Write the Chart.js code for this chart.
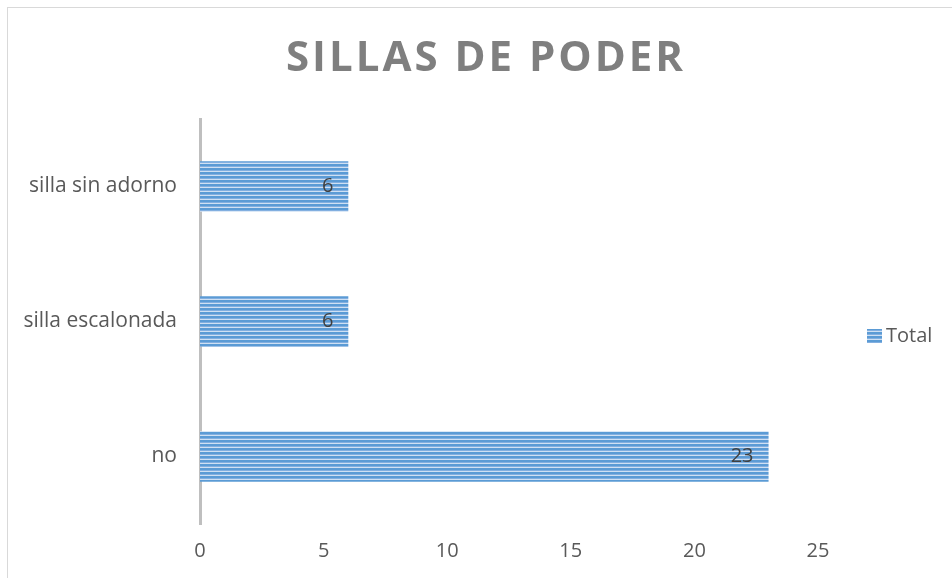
<!DOCTYPE html>
<html>
<head>
<meta charset="utf-8">
<script src="https://cdn.jsdelivr.net/npm/chart.js@4"></script>
<style>
    html, body { margin: 0; padding: 0; background: #fff; overflow: hidden; }
    #wrap { position: relative; width: 952px; height: 578px; }
    #frame { position: absolute; left: 7px; top: 7px; width: 980px; height: 620px; border: 1px solid #d9d9d9; box-sizing: border-box; }
    canvas { position: absolute; left: 0; top: 0; }
</style>
</head>
<body>
<div id="wrap">
    <div id="frame"></div>
    <canvas id="chart" width="952" height="578"></canvas>
</div>
<script>
// ── Datos ──────────────────────────────────────────────────────────────────
const categorias  = ['silla sin adorno', 'silla escalonada', 'no'];
const totales     = [6, 6, 23];
const xTicks      = [0, 5, 10, 15, 20, 25];
const tituloTxt   = 'SILLAS DE PODER';
const serieNombre = 'Total';

// ── Trama de rayas horizontales para las barras ───────────────────────────
function stripePattern() {
    const c = document.createElement('canvas');
    c.width = 4; c.height = 4;
    const g = c.getContext('2d');
    g.fillStyle = '#5b9bd5'; g.fillRect(0, 0, 4, 2);
    g.fillStyle = '#82afe0'; g.fillRect(0, 2, 4, 1);
    g.fillStyle = '#cfe0f3'; g.fillRect(0, 3, 4, 1);
    return document.getElementById('chart').getContext('2d').createPattern(c, 'repeat');
}
const trama = stripePattern();

// Título con espaciado entre letras
const titlePlugin = {
    id: 'titulo',
    afterDraw(chart) {
        const ctx = chart.ctx;
        ctx.save();
        ctx.font = 'bold 42px "Open Sans"';
        ctx.fillStyle = '#7f7f7f';
        ctx.textAlign = 'center';
        ctx.textBaseline = 'middle';
        ctx.letterSpacing = '3px';
        ctx.fillText(tituloTxt, 486, 59);
        ctx.restore();
    }
};

// Leyenda a la derecha
const legendPlugin = {
    id: 'leyenda',
    afterDraw(chart) {
        const ctx = chart.ctx;
        const y = 336;
        ctx.save();
        ctx.fillStyle = trama;
        ctx.fillRect(867, y - 7, 15, 14);
        ctx.font = '20px "Open Sans"';
        ctx.fillStyle = '#595959';
        ctx.textBaseline = 'middle';
        ctx.fillText(serieNombre, 886, y);
        ctx.restore();
    }
};

// Etiquetas de valor dentro del extremo de la barra
const valuePlugin = {
    id: 'valores',
    afterDatasetsDraw(chart) {
        const ctx = chart.ctx;
        const meta = chart.getDatasetMeta(0);
        ctx.save();
        ctx.font = '20px "Open Sans"';
        ctx.fillStyle = '#404040';
        ctx.textAlign = 'right';
        ctx.textBaseline = 'middle';
        meta.data.forEach((bar, i) => {
            ctx.fillText(String(totales[i]), bar.x - 15, bar.y);
        });
        ctx.restore();
    }
};

new Chart(document.getElementById('chart'), {
    type: 'bar',
    data: {
        labels: categorias,
        datasets: [{
            label: serieNombre,
            data: totales,
            backgroundColor: trama,
            borderWidth: 0,
            categoryPercentage: 1,
            barPercentage: 0.375
        }]
    },
    options: {
        indexAxis: 'y',
        responsive: false,
        animation: false,
        layout: { padding: { top: 119, right: 134, bottom: 0, left: 0 } },
        plugins: {
            title: { display: false },
            tooltip: { enabled: false },
            legend: { display: false }
        },
        scales: {
            x: {
                min: 0, max: 25,
                afterBuildTicks: s => { s.ticks = xTicks.map(v => ({ value: v })); },
                grid: { display: false, drawTicks: false },
                border: { display: false },
                ticks: { color: '#595959', font: { family: 'Open Sans', size: 20 }, padding: 15 }
            },
            y: {
                afterFit: s => { s.width = 200; },
                grid: { display: false, drawTicks: false },
                border: { display: true, color: '#bfbfbf', width: 3 },
                ticks: { color: '#595959', font: { family: 'Open Sans', size: 21 }, padding: 23 }
            }
        }
    },
    plugins: [titlePlugin, legendPlugin, valuePlugin]
});
</script>
</body>
</html>
